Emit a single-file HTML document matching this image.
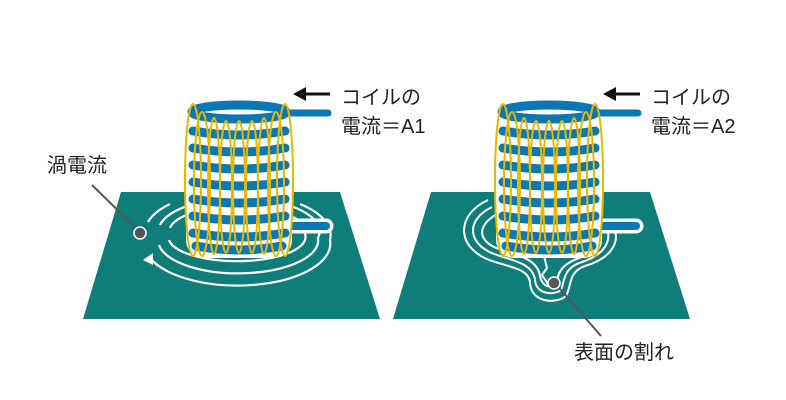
<!DOCTYPE html>
<html><head><meta charset="utf-8"><style>
html,body{margin:0;padding:0;background:#fff;width:786px;height:400px;overflow:hidden}
text{font-family:"Liberation Sans","Noto Sans CJK JP",sans-serif;font-size:20px;fill:#222}
</style></head><body>
<svg width="786" height="400" viewBox="0 0 786 400" xmlns="http://www.w3.org/2000/svg">
<defs>
<g id="coil">
  <path d="M270 226 H326" stroke="#fff" stroke-width="15" stroke-linecap="round" fill="none"/>
  <path d="M270 226 H326" stroke="#0a78b4" stroke-width="8" stroke-linecap="round" fill="none"/>
  <rect x="186" y="104" width="106" height="154" rx="18" fill="#fff"/>
  <g stroke="#0a78b4" stroke-width="9" fill="none" stroke-linecap="round">
    <ellipse cx="239" cy="112" rx="47" ry="7"/>
    <path d="M193 131 Q239 139 285 131"/>
    <path d="M193 148 Q239 156 285 148"/>
    <path d="M193 165 Q239 173 285 165"/>
    <path d="M193 182 Q239 190 285 182"/>
    <path d="M193 199 Q239 207 285 199"/>
    <path d="M193 216 Q239 224 285 216"/>
    <path d="M193 233 Q239 241 285 233"/>
    <path d="M196 246 Q239 254 282 246"/>
  </g>
  <path d="M280 113 H328" stroke="#0a78b4" stroke-width="7" stroke-linecap="round" fill="none"/>
  <g stroke="#e8b800" stroke-width="2" fill="none">
    <ellipse cx="193" cy="180" rx="8" ry="76"/>
    <ellipse cx="202" cy="184" rx="8" ry="72"/>
    <ellipse cx="214" cy="186" rx="6" ry="68"/>
    <ellipse cx="226" cy="187" rx="6" ry="66"/>
    <ellipse cx="239" cy="187" rx="6" ry="66"/>
    <ellipse cx="252" cy="187" rx="6" ry="66"/>
    <ellipse cx="264" cy="186" rx="6" ry="68"/>
    <ellipse cx="276" cy="184" rx="8" ry="72"/>
    <ellipse cx="285" cy="180" rx="8" ry="76"/>
  </g>
</g>
</defs>

<polygon points="121,192 340,192 380,319 83,319" fill="#0f7d7a"/>
<g stroke="#fff" stroke-width="2.2" fill="none">
  <path d="M150 258 A93 42 0 0 0 330 240 A93 42 0 0 0 300 204"/>
  <path d="M148 222 A93 42 0 0 1 170 204"/>
  <path d="M159 245 A80 33 0 0 0 318 238 A80 33 0 0 0 160 225"/>
  <path d="M169 240 A68 24 0 0 0 305 234 A68 24 0 0 0 170 228"/>
</g>
<polygon points="143,260 153,253 153,265" fill="#fff"/>
<use href="#coil"/>

<polygon points="431,192 650,192 690,319 393,319" fill="#0f7d7a"/>
<g stroke="#fff" stroke-width="2" fill="none">
  <path d="M488 200 C455 215 455 250 495 262 C515 268 528 270 530 282 C530 302 555 305 566 296 C572 285 568 272 585 266 C612 258 624 240 610 220"/>
  <path d="M492 207 C465 220 466 246 500 256 C520 262 533 266 535 280 C536 294 553 296 561 290 C565 280 563 268 582 262 C604 255 615 240 604 222"/>
  <path d="M497 214 C476 226 476 243 505 251 C525 257 538 262 540 276 C542 287 552 289 556 284 C558 274 560 265 579 258 C597 252 606 240 598 226"/>
</g>
<path d="M544 256 L547 268 L542 275 L548 284" stroke="#fff" stroke-width="2" fill="none"/>
<use href="#coil" x="310"/>

<path d="M330 94 H303" stroke="#111" stroke-width="3"/>
<polygon points="293,94 306,87 306,101" fill="#111"/>
<text x="341" y="104">コイルの</text>
<text x="341" y="133">電流＝A1</text>
<path d="M640 94 H613" stroke="#111" stroke-width="3"/>
<polygon points="603,94 616,87 616,101" fill="#111"/>
<text x="651" y="104">コイルの</text>
<text x="651" y="133">電流＝A2</text>

<text x="47" y="172">渦電流</text>
<path d="M92 185 L140 232" stroke="#555" stroke-width="2"/>
<circle cx="140" cy="233" r="6" fill="#555" stroke="#fff" stroke-width="1.5"/>

<path d="M555 283 L601 336" stroke="#555" stroke-width="2"/>
<circle cx="554" cy="283" r="6" fill="#555" stroke="#fff" stroke-width="1.5"/>
<text x="574" y="359">表面の割れ</text>
</svg>
</body></html>
